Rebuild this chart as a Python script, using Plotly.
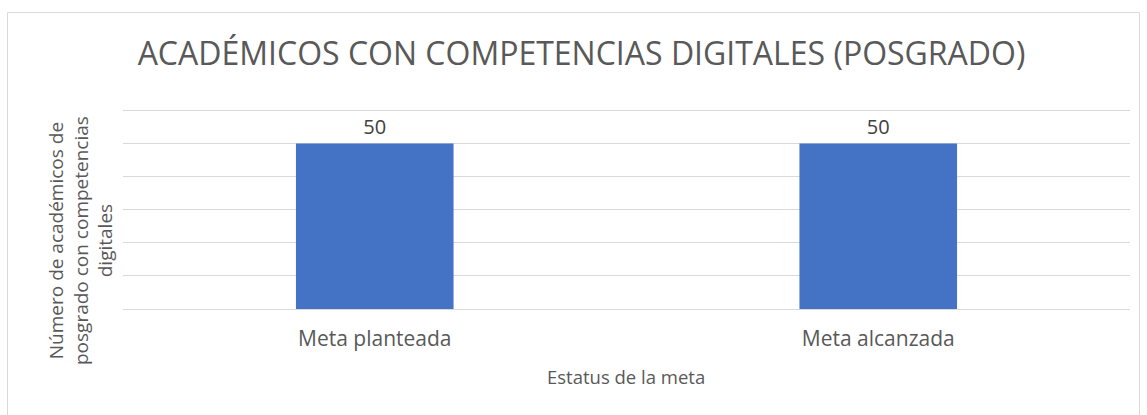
import plotly.graph_objects as go

categories = ["Meta planteada", "Meta alcanzada"]
values = [50, 50]
title_text = "ACADÉMICOS CON COMPETENCIAS DIGITALES (POSGRADO)"
x_title = "Estatus de la meta"
y_title = "Número de académicos de<br>posgrado con competencias<br>digitales"

FONT = "Open Sans"
GRAY = "#595959"

fig = go.Figure()
fig.add_trace(go.Bar(
    x=categories, y=values,
    marker=dict(color="#4472C4", line=dict(width=0)),
    text=[str(v) for v in values], textposition="outside",
    textfont=dict(family=FONT, size=20, color="#404040"),
    cliponaxis=False,
))

W, H = 1147, 415
L, R, T, B = 123, 17, 107, 106
pw, ph = W - L - R, H - T - B

def px(x):
    return (x - L) / pw

def py(y):
    return (H - B - y) / ph

fig.update_layout(
    width=W, height=H,
    margin=dict(l=L, r=R, t=T, b=B),
    paper_bgcolor="white", plot_bgcolor="white",
    bargap=0.687,
    showlegend=False,
    font=dict(family=FONT, color=GRAY),
    title=dict(text=title_text, x=581.5 / W, xanchor="center", y=1 - 54 / H, yanchor="middle",
               font=dict(family=FONT, size=32, color=GRAY)),
    xaxis=dict(showgrid=False, showline=True, linecolor="#d9d9d9", linewidth=1,
               ticks="outside", ticklen=11, tickcolor="rgba(0,0,0,0)",
               tickfont=dict(family=FONT, size=21, color=GRAY)),
    yaxis=dict(range=[0, 61], dtick=10, showticklabels=False, showgrid=True,
               gridcolor="#d9d9d9", gridwidth=1, zeroline=False, showline=False),
    shapes=[dict(type="rect", xref="paper", yref="paper",
                 x0=px(7.5), x1=px(1139.5), y0=py(430), y1=py(12.5),
                 line=dict(color="#d9d9d9", width=1), fillcolor="rgba(0,0,0,0)", layer="below")],
    annotations=[
        dict(text=y_title, xref="paper", yref="paper", x=px(81), y=py(241),
             xanchor="center", yanchor="middle", textangle=-90, showarrow=False,
             font=dict(family=FONT, size=19, color=GRAY), align="center"),
        dict(text=x_title, xref="paper", yref="paper", x=px(626), y=py(376),
             xanchor="center", yanchor="middle", showarrow=False,
             font=dict(family=FONT, size=18.5, color=GRAY)),
    ],
)

fig.write_html("out.html", config={"displayModeBar": False},
               post_script="document.body.style.margin='0';")
